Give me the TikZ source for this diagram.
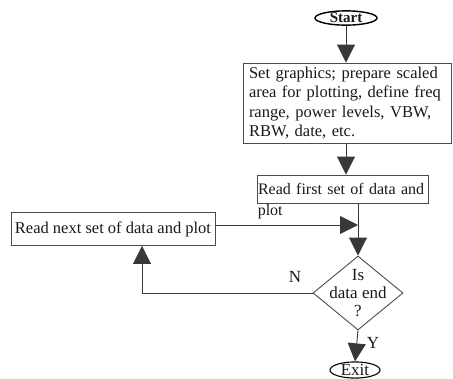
\documentclass[tikz,border=0pt]{standalone}
\usepackage{fontspec}
\setmainfont{Liberation Serif}
\usetikzlibrary{shapes.geometric,arrows.meta,calc}
\begin{document}
\begin{tikzpicture}[x=1pt,y=-1pt,
  every node/.style={font=\fontsize{16.5}{18.5}\selectfont, text=black!90},
  ln/.style={draw=black!70, line width=0.9pt},
  arr/.style={ln, -{Triangle[length=18pt,width=18pt]}, black!78},
  boxst/.style={draw=black!70, line width=0.9pt, rectangle, inner sep=2pt},
  term/.style={draw=black, line width=1.4pt, ellipse, inner sep=0pt}]
\useasboundingbox (0,0) rectangle (453,378);
\node[term, minimum width=62pt, minimum height=14pt, font=\fontsize{15}{15}\selectfont\bfseries] (start) at (346,18) {Start};
\node[boxst, inner xsep=6pt, minimum width=208pt, minimum height=80pt, align=left, text width=196pt, font=\fontsize{16.5}{19.3}\selectfont] (box1) at (347,103)
  {Set graphics; prepare scaled\\area for plotting, define freq\\range, power levels, VBW,\\RBW, date, etc.};
\node[boxst, inner xsep=1pt, minimum width=171pt, minimum height=28pt, text width=169pt, align=left, font=\fontsize{16}{18}\selectfont] (box2) at (342.5,189) {Read first set of data and};
\node[anchor=north west, inner sep=0pt, font=\fontsize{16}{18}\selectfont] (plotlbl) at ([xshift=1pt,yshift=-1pt]box2.south west) {plot};
\node[boxst, minimum width=204pt, minimum height=33pt] (box3) at (113,229) {Read next set of data and plot};
\node[diamond, draw=black!70, line width=0.9pt, minimum width=90pt, minimum height=74pt, inner sep=0pt] (dec) at (358,293) {};
\node[align=center, font=\fontsize{17}{18}\selectfont] (dectext) at (dec) {Is\\data end\\?};
\node[term, line width=1.1pt, minimum width=50pt, minimum height=15pt, font=\fontsize{17}{17}\selectfont] (exit) at (355,370) {Exit};
\node[font=\fontsize{17}{17}\selectfont] (N) at (295,277) {N};
\node[font=\fontsize{17}{17}\selectfont] (Y) at (373,343) {Y};
\draw[arr] (start) -- (box1.north -| start);
\draw[arr] (box1.south -| start) -- (box2.north -| start);
\draw[arr] (box2.south -| dec.north) -- (dec.north);
\draw[arr] ([yshift=4pt]box3.east) -- ([yshift=4pt]box3.east -| dec.north);
\draw[arr] (dec.south) -- (exit.north);
\draw[arr] (dec.west) -| ([xshift=29pt]box3.south);
\end{tikzpicture}
\end{document}
